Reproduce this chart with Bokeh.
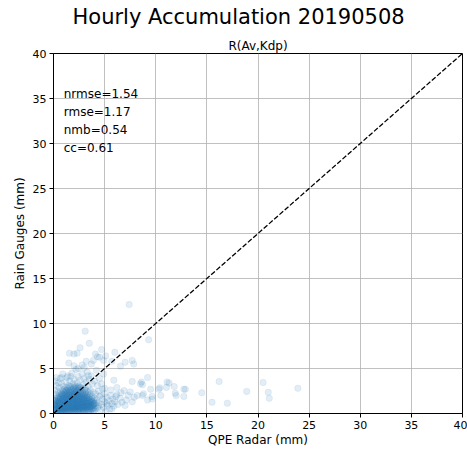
from bokeh.plotting import figure
from bokeh.models import ColumnDataSource, FixedTicker, Range1d, Title
from bokeh.core.properties import value
from bokeh.embed import file_html
from bokeh.resources import INLINE

# Hourly rain totals: radar QPE (x) against the collocated rain gauge (y), mm
radar_mm = [
    # dense cluster of light-rain pairs
    0.08, 0.14, 0.05, 0.12, 0.18, 0.07, 0.15, 0.10,
    0.28, 0.34, 0.25, 0.31, 0.37, 0.26, 0.33, 0.29, 0.36, 0.24,
    0.47, 0.55, 0.44, 0.52, 0.58, 0.46, 0.53, 0.49, 0.56, 0.45, 0.51, 0.54,
    0.68, 0.74, 0.65, 0.71, 0.77, 0.66, 0.73, 0.69, 0.76, 0.64, 0.72, 0.67, 0.75,
    0.88, 0.95, 0.85, 0.92, 0.97, 0.86, 0.93, 0.89, 0.96, 0.84, 0.91, 0.87, 0.94, 0.90, 0.86,
    1.08, 1.15, 1.05, 1.12, 1.17, 1.06, 1.13, 1.09, 1.16, 1.04, 1.11, 1.07, 1.14, 1.10, 1.06, 1.13,
    1.28, 1.35, 1.25, 1.32, 1.37, 1.26, 1.33, 1.29, 1.36, 1.24, 1.31, 1.27, 1.34, 1.30, 1.26, 1.33, 1.28,
    1.48, 1.55, 1.45, 1.52, 1.57, 1.46, 1.53, 1.49, 1.56, 1.44, 1.51, 1.47, 1.54, 1.50, 1.46, 1.53, 1.48,
    1.68, 1.75, 1.65, 1.72, 1.77, 1.66, 1.73, 1.69, 1.76, 1.64, 1.71, 1.67, 1.74, 1.70, 1.66, 1.73, 1.68, 1.75,
    1.88, 1.95, 1.85, 1.92, 1.97, 1.86, 1.93, 1.89, 1.96, 1.84, 1.91, 1.87, 1.94, 1.90, 1.86, 1.93, 1.88, 1.95,
    2.08, 2.15, 2.05, 2.12, 2.17, 2.06, 2.13, 2.09, 2.16, 2.04, 2.11, 2.07, 2.14, 2.10, 2.06, 2.13, 2.08, 2.15,
    2.28, 2.35, 2.25, 2.32, 2.37, 2.26, 2.33, 2.29, 2.36, 2.24, 2.31, 2.27, 2.34, 2.30, 2.26, 2.33, 2.28, 2.35,
    2.48, 2.55, 2.45, 2.52, 2.57, 2.46, 2.53, 2.49, 2.56, 2.44, 2.51, 2.47, 2.54, 2.50, 2.46, 2.53, 2.48,
    2.68, 2.75, 2.65, 2.72, 2.77, 2.66, 2.73, 2.69, 2.76, 2.64, 2.71, 2.67, 2.74, 2.70, 2.66, 2.73,
    2.88, 2.95, 2.85, 2.92, 2.97, 2.86, 2.93, 2.89, 2.96, 2.84, 2.91, 2.87, 2.94, 2.90, 2.86,
    3.08, 3.15, 3.05, 3.12, 3.17, 3.06, 3.13, 3.09, 3.16, 3.04, 3.11, 3.07, 3.14, 3.10,
    3.28, 3.35, 3.25, 3.32, 3.37, 3.26, 3.33, 3.29, 3.36, 3.24, 3.31, 3.27, 3.34,
    3.48, 3.55, 3.45, 3.52, 3.57, 3.46, 3.53, 3.49, 3.56, 3.44, 3.51,
    3.68, 3.75, 3.65, 3.72, 3.77, 3.66, 3.73, 3.69, 3.76,
    3.88, 3.95, 3.85, 3.92, 3.97, 3.86, 3.93,
    # looser fringe around the cluster
    0.05, 0.12, 0.20, 0.10, 0.25, 0.15, 0.30, 0.40,
    0.45, 0.60, 0.55, 0.70, 0.80, 0.65, 0.90, 1.00,
    1.10, 1.20, 1.30, 1.40, 1.50, 1.60, 1.70, 1.80,
    1.90, 2.00, 2.10, 2.20, 2.30, 2.40, 2.50, 2.60,
    2.70, 2.80, 2.90, 3.00, 3.10, 3.20, 3.30, 3.40,
    3.50, 3.60, 3.70, 3.80, 3.90, 4.00, 4.10, 4.20,
    4.30, 4.40, 4.50, 4.60, 4.70, 4.80, 4.90, 5.00,
    2.00, 2.20, 2.40, 2.60, 2.80, 3.00, 3.20, 3.40,
    3.60, 3.80, 4.00, 4.20, 4.40, 4.00, 4.10, 3.90,
    1.20, 1.40, 1.60, 1.00, 0.80, 0.60, 0.40, 0.20,
    4.00, 4.10, 4.20, 4.30, 4.40, 4.50, 4.60, 4.70,
    4.80, 4.90, 5.00, 5.10, 5.20, 5.30, 5.40, 5.50,
    5.60, 5.70, 5.80, 5.90, 6.00, 6.20, 6.30, 6.50,
    6.70, 6.90, 7.10, 7.30, 7.50, 7.70, 7.90, 8.20,
    8.50, 8.80, 6.20, 5.90, 7.70, 3.60, 3.40, 2.90,
    5.20, 5.60, 6.60, 7.00, 5.00, 6.10, 8.60, 9.50,
    0.02, 0.03, 1.30, 0.50, 0.90, 1.70, 2.40, 3.40,
    # isolated pairs
    9.30, 9.20, 8.70, 8.70, 9.20, 9.65, 10.40, 10.50,
    11.30, 11.05, 11.80, 11.90, 12.00, 12.75, 12.75, 14.50,
    15.50, 16.20, 17.00, 18.90, 20.50, 21.00, 21.10, 23.90,
    7.40, 3.10, 3.50, 1.56, 2.30, 2.60, 4.10, 4.70,
    6.00, 4.50, 4.90, 7.00, 7.70, 7.85, 9.65, 5.70,
    6.55, 5.70, 5.10, 4.30, 3.90, 3.20, 2.80, 2.00,
    1.50, 2.00, 0.80, 11.10, 10.30, 12.90, 3.00, 3.70,
]

gauge_mm = [
    0.05, 0.22, 0.38, 0.52, 0.68, 0.85, 1.02, 1.20,
    0.06, 0.20, 0.35, 0.49, 0.63, 0.79, 0.94, 1.10, 1.27, 1.45,
    0.08, 0.22, 0.36, 0.50, 0.64, 0.78, 0.93, 1.08, 1.22, 1.38, 1.55, 1.74,
    0.10, 0.25, 0.39, 0.53, 0.68, 0.82, 0.97, 1.12, 1.27, 1.42, 1.58, 1.76, 1.95,
    0.08, 0.22, 0.36, 0.50, 0.64, 0.78, 0.92, 1.06, 1.21, 1.36, 1.51, 1.66, 1.82, 1.99, 2.18,
    0.10, 0.24, 0.38, 0.52, 0.66, 0.80, 0.94, 1.08, 1.22, 1.37, 1.52, 1.67, 1.83, 1.99, 2.16, 2.35,
    0.15, 0.29, 0.43, 0.57, 0.71, 0.85, 0.99, 1.13, 1.27, 1.41, 1.56, 1.71, 1.86, 2.02, 2.18, 2.36, 2.56,
    0.18, 0.32, 0.46, 0.60, 0.74, 0.88, 1.02, 1.16, 1.30, 1.45, 1.60, 1.75, 1.90, 2.06, 2.22, 2.40, 2.62,
    0.16, 0.30, 0.44, 0.58, 0.72, 0.86, 1.00, 1.14, 1.28, 1.42, 1.56, 1.71, 1.86, 2.01, 2.17, 2.34, 2.52, 2.72,
    0.20, 0.34, 0.48, 0.62, 0.76, 0.90, 1.04, 1.18, 1.32, 1.46, 1.60, 1.75, 1.90, 2.05, 2.21, 2.38, 2.56, 2.76,
    0.17, 0.31, 0.45, 0.59, 0.73, 0.87, 1.01, 1.15, 1.29, 1.43, 1.57, 1.72, 1.87, 2.02, 2.18, 2.35, 2.53, 2.74,
    0.22, 0.36, 0.50, 0.64, 0.78, 0.92, 1.06, 1.20, 1.34, 1.48, 1.62, 1.77, 1.92, 2.07, 2.23, 2.40, 2.58, 2.78,
    0.20, 0.34, 0.48, 0.62, 0.76, 0.90, 1.04, 1.18, 1.32, 1.46, 1.60, 1.75, 1.90, 2.06, 2.22, 2.40, 2.65,
    0.26, 0.40, 0.54, 0.68, 0.82, 0.96, 1.10, 1.24, 1.38, 1.52, 1.67, 1.82, 1.97, 2.13, 2.30, 2.52,
    0.28, 0.42, 0.56, 0.70, 0.84, 0.98, 1.12, 1.26, 1.40, 1.55, 1.70, 1.85, 2.01, 2.18, 2.40,
    0.30, 0.45, 0.60, 0.74, 0.88, 1.02, 1.16, 1.30, 1.45, 1.60, 1.75, 1.91, 2.08, 2.30,
    0.32, 0.47, 0.62, 0.76, 0.90, 1.04, 1.18, 1.33, 1.48, 1.63, 1.79, 1.96, 2.16,
    0.38, 0.54, 0.69, 0.84, 0.98, 1.12, 1.27, 1.42, 1.58, 1.75, 1.95,
    0.42, 0.58, 0.74, 0.89, 1.04, 1.19, 1.34, 1.50, 1.68,
    0.50, 0.66, 0.82, 0.97, 1.12, 1.27, 1.42,
    # looser fringe around the cluster
    1.45, 1.70, 2.10, 2.60, 3.10, 3.60, 4.00, 1.90,
    2.40, 2.20, 2.90, 2.50, 3.30, 3.90, 2.60, 3.00,
    2.70, 3.50, 2.90, 4.20, 3.10, 3.60, 3.00, 4.50,
    3.30, 3.80, 3.10, 4.90, 3.40, 4.10, 3.00, 3.70,
    2.90, 4.40, 3.20, 3.90, 2.80, 3.50, 4.60, 3.00,
    3.80, 2.60, 4.20, 3.30, 2.40, 3.60, 2.20, 4.80,
    3.10, 2.50, 3.90, 2.00, 3.30, 2.70, 4.40, 2.20,
    2.90, 3.00, 2.95, 2.85, 2.75, 2.65, 2.55, 2.40,
    2.20, 1.90, 1.70, 1.20, 0.80, 1.10, 0.50, 0.25,
    2.55, 2.80, 2.95, 2.40, 2.20, 2.00, 1.70, 1.40,
    0.30, 0.90, 1.50, 0.60, 1.20, 1.90, 0.40, 1.00,
    1.60, 0.70, 1.30, 0.20, 1.80, 0.90, 1.40, 0.50,
    2.00, 1.10, 1.60, 0.80, 1.30, 2.10, 1.00, 1.70,
    1.25, 2.55, 1.50, 2.00, 2.40, 1.30, 1.80, 2.00,
    3.30, 2.20, 2.90, 3.70, 3.55, 0.20, 0.15, 0.12,
    1.10, 2.60, 2.30, 0.90, 2.80, 1.90, 3.50, 2.70,
    0.50, 1.00, 4.00, 3.40, 4.40, 4.10, 5.00, 4.20,
    # isolated pairs
    8.20, 4.00, 3.20, 2.00, 1.50, 1.90, 2.85, 2.00,
    3.40, 2.90, 3.00, 2.25, 2.00, 2.70, 1.90, 2.30,
    1.25, 3.55, 1.15, 2.45, 3.45, 2.35, 1.70, 2.80,
    12.10, 9.15, 7.80, 6.70, 6.70, 7.30, 6.60, 7.10,
    6.80, 6.25, 5.90, 5.70, 5.90, 5.50, 1.60, 0.50,
    5.26, 5.80, 6.40, 6.30, 5.90, 5.80, 5.40, 5.30,
    5.60, 6.60, 4.00, 3.50, 2.70, 2.70, 5.10, 5.50,
]

assert len(radar_mm) == len(gauge_mm)

axis_ticks = [0, 5, 10, 15, 20, 25, 30, 35, 40]
stat_labels = ["nrmse=1.54", "rmse=1.17", "nmb=0.54", "cc=0.61"]

FONT = "DejaVu Sans"
BLUE = "#1f77b4"

p = figure(
    width=467, height=454,
    x_range=Range1d(0, 40), y_range=Range1d(0, 40),
    output_backend="svg", toolbar_location=None,
    min_border_left=53, min_border_right=5,
    min_border_top=53, min_border_bottom=41,
    background_fill_color="white", border_fill_color="white",
)

# main heading on top, method name just above the axes
p.title.text = "Hourly Accumulation 20190508"
p.title.align = "left"
p.title.offset = 19
p.title.vertical_align = "top"
p.title.text_font = FONT
p.title.text_font_size = "21px"
p.title.text_font_style = "normal"
p.title.text_color = "black"
p.title.standoff = 9
p.add_layout(Title(text="R(Av,Kdp)", align="center", text_color="black",
                   text_font=FONT, text_font_size="12px", text_font_style="normal",
                   standoff=2), "above")

p.outline_line_color = "black"
p.outline_line_width = 1

for ax, lbl in ((p.xaxis, "QPE Radar (mm)"), (p.yaxis, "Rain Gauges (mm)")):
    ax.ticker = FixedTicker(ticks=axis_ticks)
    ax.axis_label = lbl
    ax.axis_label_text_font = FONT
    ax.axis_label_text_font_size = "12px"
    ax.axis_label_text_font_style = "normal"
    ax.axis_label_text_color = "black"
    ax.major_label_text_font = FONT
    ax.major_label_text_font_size = "11px"
    ax.major_label_text_color = "black"
    ax.major_label_standoff = 3
    ax.major_tick_in = 0
    ax.major_tick_out = 4
    ax.minor_tick_line_color = None
    ax.axis_line_color = "black"
    ax.major_tick_line_color = "black"
p.xaxis.axis_label_standoff = 1
p.yaxis.axis_label_standoff = 3

p.grid.grid_line_color = "#b0b0b0"
p.grid.grid_line_width = 1
p.grid.grid_line_alpha = 0.8

src = ColumnDataSource(data=dict(radar=radar_mm, gauge=gauge_mm))
p.scatter("radar", "gauge", source=src, size=6.5,
          fill_color=BLUE, fill_alpha=0.13,
          line_color=BLUE, line_alpha=0.09, line_width=0.8)

# 1:1 reference line
p.line([0, 40], [0, 40], line_color="black", line_width=1.3, line_dash="5 2")

# goodness-of-fit summary, one line per statistic, 2 mm apart
stat_y = [35.45 - 2 * i for i in range(len(stat_labels))]
p.text(x=[1] * len(stat_labels), y=stat_y, text=stat_labels,
       text_font=value(FONT), text_font_size="12px",
       text_color="black", text_baseline="middle", text_align="left")

open("out.html", "w").write(file_html(p, INLINE))
